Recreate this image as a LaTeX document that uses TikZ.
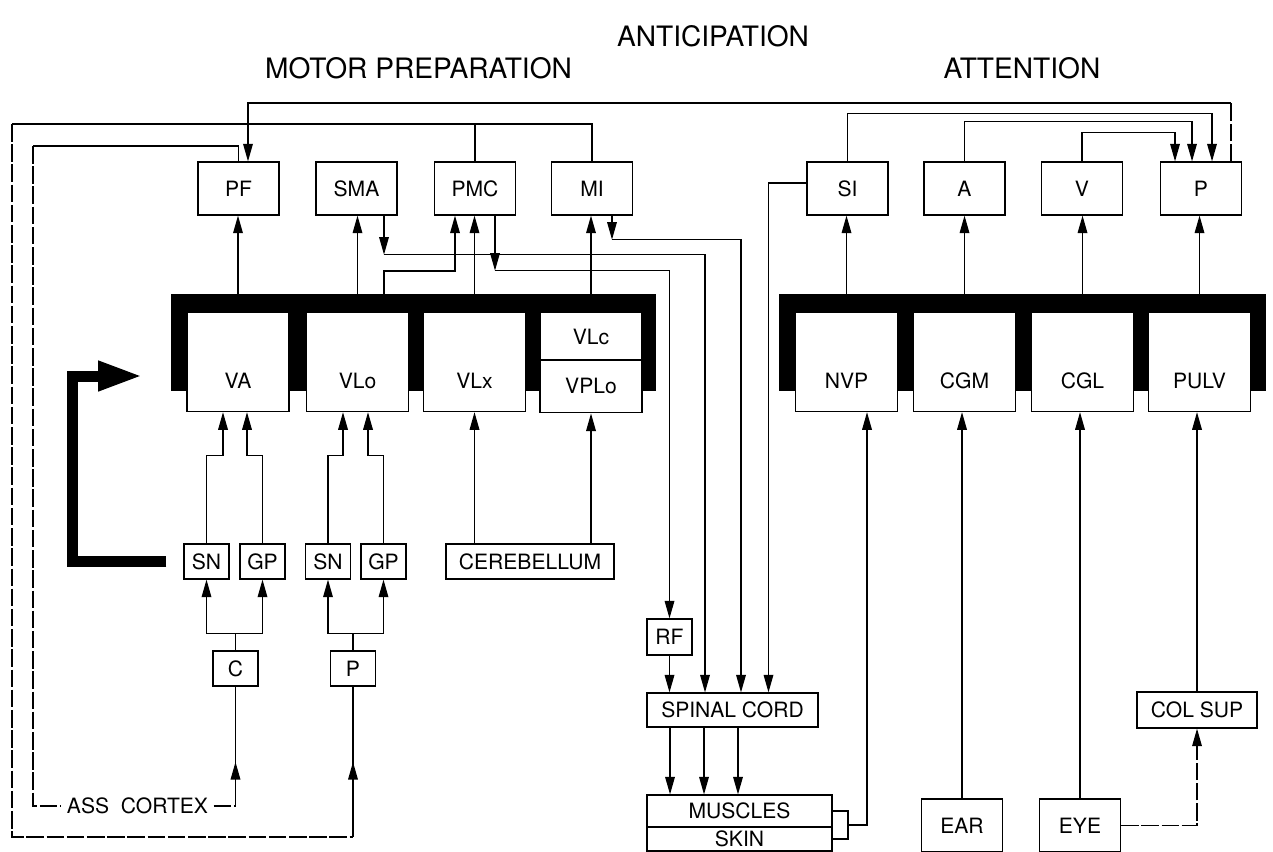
\documentclass[tikz,border=0pt]{standalone}
\usepackage{fontspec}
\setmainfont{TeX Gyre Heros}
\usetikzlibrary{arrows.meta, positioning, calc}
\newcommand\lblfont{\fontsize{12}{14}\selectfont}
\newcommand\headfont{\fontsize{16}{19}\selectfont}

\begin{document}
\begin{tikzpicture}[
    x=0.02cm, y=-0.02cm,
    >={Triangle[length=10pt,width=5.5pt]},
    conn/.style={line width=0.7pt},
    broken/.style={conn, dash pattern=on 10pt off 1.5pt},
    box/.style={draw, fill=white, line width=0.7pt, minimum width=1.62cm, minimum height=1.06cm, inner sep=0pt, font=\lblfont},
    smallbox/.style={box, minimum width=0.9cm, minimum height=0.7cm},
    thal/.style={draw, fill=white, line width=0.7pt, anchor=north, minimum width=2.04cm, inner sep=0pt, text height=1.51cm, text depth=0.47cm, font=\lblfont},
    headtext/.style={font=\headfont},
]
    \useasboundingbox (0,0) rectangle (1273,851);

    % headings
    \node[headtext] (antic) at (713,36) {ANTICIPATION};
    \node[headtext] (motor) at (418.5,68) {MOTOR PREPARATION};
    \node[headtext] (attn) at (1022,68) {ATTENTION};

    % thalamus, black frames first
    \fill (171,294) rectangle (656,391);
    \fill (779,294) rectangle (1266,391);
    \node[thal] (VA) at (238,312) {VA};
    \node[thal] (VLo) at (357.5,312) {VLo};
    \node[thal] (VLx) at (474.5,312) {VLx};
    \node[thal, text height=0.63cm, text depth=0.31cm] (VLc) at (591,312) {VLc};
    \node[thal, text height=0.65cm, text depth=0.39cm] (VPLo) at (VLc.south) {VPLo};
    \node[thal] (NVP) at (846.5,312) {NVP};
    \node[thal] (CGM) at (964.5,312) {CGM};
    \node[thal] (CGL) at (1082.5,312) {CGL};
    \node[thal] (PULV) at (1199.5,312) {PULV};

    % cortex
    \node[box] (PF) at (238.5,188.5) {PF};
    \node[box] (SMA) at (356.5,188.5) {SMA};
    \node[box] (PMC) at (475,188.5) {PMC};
    \node[box] (MI) at (592,188.5) {MI};
    \node[box] (SI) at (847.5,188.5) {SI};
    \node[box] (A) at (964.5,188.5) {A};
    \node[box] (V) at (1082,188.5) {V};
    \node[box] (P) at (1201,188.5) {P};

    % basal ganglia, cerebellum
    \node[smallbox] (SN1) at (206.5,561.5) {SN};
    \node[smallbox] (GP1) at (262.5,561.5) {GP};
    \node[smallbox] (SN2) at (328,561.5) {SN};
    \node[smallbox] (GP2) at (383.5,561.5) {GP};
    \node[smallbox] (Cau) at (235.5,668.5) {C};
    \node[smallbox] (Put) at (353,668.5) {P};
    \node[box, minimum width=3.36cm, minimum height=0.7cm] (CER) at (530,561.5) {CEREBELLUM};
    \node[font=\lblfont, inner sep=3pt] (ASS) at (137.5,806) {ASS~~CORTEX};

    % periphery
    \node[smallbox, minimum height=0.72cm] (RF) at (669.5,637) {RF};
    \node[box, minimum width=3.42cm, minimum height=0.68cm] (SC) at (732.5,710) {SPINAL CORD};
    \node[box, minimum width=3.7cm, minimum height=0.64cm] (MUS) at (739.5,811) {MUSCLES};
    \node[box, minimum width=3.7cm, minimum height=0.48cm] (SKIN) at (739.5,839) {SKIN};
    \node[box] (EAR) at (962,825.5) {EAR};
    \node[box] (EYE) at (1080,825.5) {EYE};
    \node[box, minimum width=2.4cm, minimum height=0.72cm] (COL) at (1197,710) {COL SUP};

    % thalamus -> cortex
    \draw[conn,->] (VA.north) -- (VA.north |- PF.south);
    \draw[conn,->] (VLo.north) -- (VLo.north |- SMA.south);
    \draw[conn,->] (VLx.north) -- (VLx.north |- PMC.south);
    \draw[conn,->] (VLc.north) -- (VLc.north |- MI.south);
    \draw[conn,->] ([xshift=0.53cm]VLo.north) -- ++(0,-41) -| ([xshift=-0.4cm]PMC.south);
    \draw[conn,->] (NVP.north) -- (NVP.north |- SI.south);
    \draw[conn,->] (CGM.north) -- (CGM.north |- A.south);
    \draw[conn,->] (CGL.north) -- (CGL.north |- V.south);
    \draw[conn,->] (PULV.north) -- (PULV.north |- P.south);

    % cortex -> spinal cord
    \draw[conn,->] ([xshift=0.55cm]SMA.south) -- ++(0,39) coordinate (sma1);
    \draw[conn,->] (sma1) -| ([xshift=-0.55cm]SC.north);
    \draw[conn,->] ([xshift=0.4cm]PMC.south) -- ++(0,55) coordinate (pmc1);
    \draw[conn,->] (pmc1) -| (RF.north);
    \draw[conn,->] ([xshift=0.4cm]MI.south) -- ++(0,24) coordinate (mi1);
    \draw[conn,->] (mi1) -| ([xshift=0.17cm]SC.north);
    \draw[conn,->] ([yshift=0.11cm]SI.west) -| ([xshift=0.72cm]SC.north);
    \draw[conn,->] (RF.south) -- (RF.south |- SC.north);
    \foreach \dx in {-1.25,-0.57,0.11}
        \draw[conn,->] ([xshift=\dx cm]SC.south) -- ([xshift=\dx cm]SC.south |- MUS.north);

    % attention cortex -> P
    \draw[conn,->] (SI.north) -- ++(0,-48) -| ([xshift=0.22cm]P.north);
    \draw[conn,->] (A.north) -- ++(0,-40) -| ([xshift=-0.18cm]P.north);
    \draw[conn,->] (V.north) -- ++(0,-29) -| ([xshift=-0.52cm]P.north);

    % long loops
    \coordinate (t1) at (1231,103);
    \draw[broken] (P.north -| t1) -- (t1);
    \draw[conn,->] (t1) -| ([xshift=0.19cm]PF.north);
    \coordinate (t2) at (12,124);
    \draw[conn] (MI.north) |- (t2);
    \draw[conn] (PMC.north) -- (PMC.north |- t2);
    \coordinate (t3) at (12,837);
    \draw[broken] (t2) -- (t3) -- (t3 -| Put.south);
    \draw[conn] (t3 -| Put.south) -- (Put.south);
    \draw[conn,->] (t3 -| Put.south) -- ++(0,-75);
    \coordinate (t4) at (33,146);
    \draw[conn] (PF.north) |- (t4);
    \draw[broken] (t4) |- (ASS.west);
    \draw[broken] (ASS.east) -- (ASS.east -| Cau.south);
    \draw[conn] (ASS.east -| Cau.south) -- (Cau.south);
    \draw[conn,->] (ASS.east -| Cau.south) -- ++(0,-44);

    % basal ganglia -> thalamus
    \draw[conn,->] (SN1.north) -- ++(0,-88) -| ([xshift=-0.3cm]VA.south);
    \draw[conn,->] (GP1.north) -- ++(0,-88) -| ([xshift=0.18cm]VA.south);
    \draw[conn,->] (SN2.north) -- ++(0,-88) -| ([xshift=-0.29cm]VLo.south);
    \draw[conn,->] (GP2.north) -- ++(0,-88) -| ([xshift=0.21cm]VLo.south);
    \foreach \n in {SN1,GP1}
        \draw[conn,->] (Cau.north) -- ++(0,-17) -| (\n.south);
    \foreach \n in {SN2,GP2}
        \draw[conn,->] (Put.north) -- ++(0,-17) -| (\n.south);
    \draw[conn,->] (CER.north -| VLx.south) -- (VLx.south);
    \draw[conn,->] (CER.north -| VPLo.south) -- (VPLo.south);

    % thick return arrow
    \coordinate (ret) at (143,376);
    \draw[line width=0.22cm, -{Triangle[length=0.9cm,width=0.55cm]}]
        ([xshift=-0.34cm]SN1.west) -| (72,376) -- (ret);

    % senses
    \draw[conn,->] (EAR.north) -- (EAR.north |- CGM.south);
    \draw[conn,->] (EYE.north) -- (EYE.north |- CGL.south);
    \draw[conn,->] (COL.north) -- (COL.north |- PULV.south);
    \draw[broken,->] (EYE.east) -| (COL.south);
    \coordinate (b1) at (848,825);
    \coordinate (b2) at (867,825);
    \draw[conn] (MUS.east) -| (b1) |- (SKIN.east);
    \draw[conn,->] (b1) -- (b2) -- (b2 |- NVP.south);
\end{tikzpicture}
\end{document}
